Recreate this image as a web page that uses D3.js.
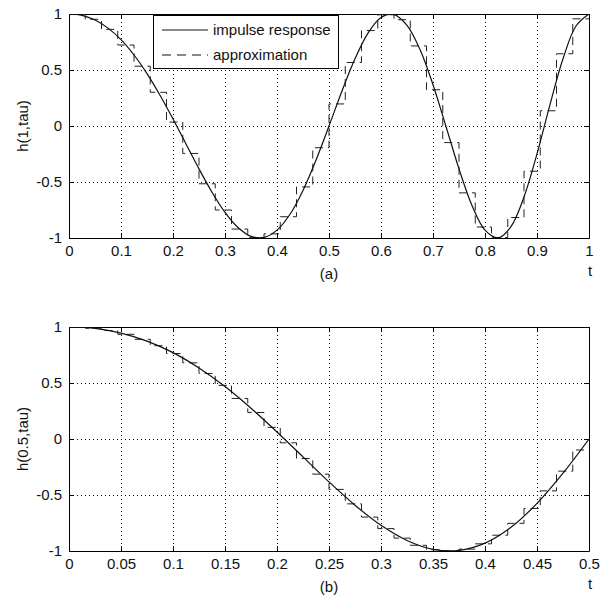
<!DOCTYPE html>
<html>
<head>
<meta charset="utf-8">
<script src="https://cdn.jsdelivr.net/npm/d3@7"></script>
<style>
  body { margin: 0; background: #fff; }
  svg { display: block; font-family: "Liberation Sans", Arial, sans-serif; }
</style>
</head>
<body>
<svg id="chart" width="604" height="597"></svg>
<script>
// impulse response samples, panel (a): h(1,tau)
var tauA = [0, 0.025, 0.05, 0.075, 0.1, 0.125, 0.15, 0.175, 0.2, 0.225, 0.25, 0.275, 0.3, 0.325, 0.35, 0.375, 0.4,
  0.425, 0.45, 0.475, 0.5, 0.525, 0.55, 0.575, 0.6, 0.625, 0.65, 0.675, 0.7, 0.725, 0.75, 0.775, 0.8, 0.825,
  0.85, 0.875, 0.9, 0.925, 0.95, 0.975, 1];
var hA = [1, 0.987, 0.946, 0.874, 0.771, 0.634, 0.468, 0.275, 0.063, -0.160, -0.383, -0.591, -0.771, -0.906, -0.985,
  -0.995, -0.930, -0.788, -0.575, -0.305, 0, 0.313, 0.600, 0.829, 0.969, 0.995, 0.898, 0.682, 0.368, -0.004,
  -0.383, -0.710, -0.930, -0.999, -0.898, -0.634, -0.249, 0.191, 0.600, 0.893, 1];
// approximation (staircase), panel (a): 32 steps over [0,1]
var stepA = [0.995, 0.953, 0.863, 0.723, 0.534, 0.301, 0.035, -0.245, -0.516, -0.750, -0.920, -0.997, -0.963,
  -0.810, -0.544, -0.194, 0.197, 0.567, 0.852, 0.993, 0.949, 0.715, 0.324, -0.148, -0.597, -0.902, -0.996,
  -0.817, -0.404, 0.136, 0.645, 0.957];

// panel (b): h(0.5,tau)
var tauB = [0, 0.025, 0.05, 0.075, 0.1, 0.125, 0.15, 0.175, 0.2, 0.225, 0.25, 0.275, 0.3, 0.325, 0.35, 0.375,
  0.4, 0.425, 0.45, 0.475, 0.5];
var hB = [1, 0.987, 0.946, 0.874, 0.771, 0.634, 0.468, 0.275, 0.063, -0.160, -0.383, -0.591, -0.771, -0.906,
  -0.985, -0.995, -0.930, -0.788, -0.575, -0.305, 0];
// 32 steps over [0,0.5]
var stepB = [0.999, 0.989, 0.968, 0.935, 0.890, 0.833, 0.763, 0.680, 0.585, 0.479, 0.362, 0.237, 0.104, -0.034,
  -0.174, -0.314, -0.450, -0.579, -0.697, -0.800, -0.885, -0.949, -0.988, -1.000, -0.983, -0.936, -0.859,
  -0.753, -0.620, -0.463, -0.287, -0.098];

var tTicksA = [0, 0.1, 0.2, 0.3, 0.4, 0.5, 0.6, 0.7, 0.8, 0.9, 1];
var tTicksB = [0, 0.05, 0.1, 0.15, 0.2, 0.25, 0.3, 0.35, 0.4, 0.45, 0.5];
var hTicks = [-1, -0.5, 0, 0.5, 1];

var svg = d3.select("#chart");
var left = 69, right = 589;

var panels = [
  {top: 14, bottom: 238, tmax: 1, tau: tauA, h: hA, steps: stepA, ticks: tTicksA,
   ylabel: "h(1,tau)", caption: "(a)", legend: true},
  {top: 327, bottom: 551, tmax: 0.5, tau: tauB, h: hB, steps: stepB, ticks: tTicksB,
   ylabel: "h(0.5,tau)", caption: "(b)", legend: false}
];

panels.forEach(function(p, i) {
  var x = d3.scaleLinear().domain([0, p.tmax]).range([left, right]);
  var y = d3.scaleLinear().domain([-1, 1]).range([p.bottom, p.top]);
  var g = svg.append("g");

  g.append("clipPath").attr("id", "clip" + i)
    .append("rect").attr("x", left).attr("y", p.top)
    .attr("width", right - left).attr("height", p.bottom - p.top);

  // dotted grid
  var grid = g.append("g").attr("stroke", "#000").attr("stroke-width", 1)
    .attr("stroke-dasharray", "1,3").attr("shape-rendering", "crispEdges");
  grid.selectAll(".gx").data(p.ticks.slice(1, -1)).enter().append("line")
    .attr("x1", function(d) { return Math.round(x(d)) + 0.5; })
    .attr("x2", function(d) { return Math.round(x(d)) + 0.5; })
    .attr("y1", p.top).attr("y2", p.bottom);
  grid.selectAll(".gy").data(hTicks.slice(1, -1)).enter().append("line")
    .attr("y1", function(d) { return Math.round(y(d)) + 0.5; })
    .attr("y2", function(d) { return Math.round(y(d)) + 0.5; })
    .attr("x1", left).attr("x2", right);

  // axes (ticks inside, box)
  var ax = d3.axisBottom(x).tickValues(p.ticks).tickSizeInner(-5).tickSizeOuter(0)
    .tickPadding(9).tickFormat(function(d) { return String(+d.toFixed(2)); });
  var gx = g.append("g").attr("transform", "translate(0," + p.bottom + ")").call(ax);
  var ay = d3.axisLeft(y).tickValues(hTicks).tickSizeInner(-5).tickSizeOuter(0)
    .tickPadding(7).tickFormat(function(d) { return String(d); });
  var gy = g.append("g").attr("transform", "translate(" + left + ",0)").call(ay);
  var axT = d3.axisTop(x).tickValues(p.ticks).tickSizeInner(-5).tickSizeOuter(0).tickFormat("");
  var gxt = g.append("g").attr("transform", "translate(0," + p.top + ")").call(axT);
  var ayR = d3.axisRight(y).tickValues(hTicks).tickSizeInner(-5).tickSizeOuter(0).tickFormat("");
  var gyr = g.append("g").attr("transform", "translate(" + right + ",0)").call(ayR);
  [gx, gy, gxt, gyr].forEach(function(a) {
    a.selectAll("path").attr("stroke", "#000");
    a.selectAll("line").attr("stroke", "#000");
    a.selectAll("text").attr("font-size", 15).attr("fill", "#111")
      .attr("font-family", "'Liberation Sans', Arial, sans-serif");
  });
  gx.selectAll("text").attr("dy", "0.71em").attr("transform", "translate(0,-2)");

  // y label
  g.append("text").attr("transform", "translate(23," + ((p.top + p.bottom) / 2) + ") rotate(-90)")
    .attr("text-anchor", "middle").attr("dy", "0.35em").attr("font-size", 15).attr("fill", "#111")
    .text(p.ylabel);
  // t label and caption
  g.append("text").attr("x", right + 1).attr("y", p.bottom + 33).attr("text-anchor", "middle")
    .attr("dy", "0.35em").attr("font-size", 15).attr("fill", "#111").text("t");
  g.append("text").attr("x", x(p.tmax / 2)).attr("y", p.bottom + 36).attr("text-anchor", "middle")
    .attr("dy", "0.35em").attr("font-size", 15).attr("fill", "#111").text(p.caption);

  var plot = g.append("g").attr("clip-path", "url(#clip" + i + ")");

  // staircase approximation
  var w = p.tmax / p.steps.length;
  var stairPts = p.steps.map(function(v, k) { return [k * w, v]; });
  stairPts.push([p.tmax, p.steps[p.steps.length - 1]]);
  plot.append("path").datum(stairPts)
    .attr("fill", "none").attr("stroke", "#222").attr("stroke-width", 1)
    .attr("stroke-dasharray", "8,5")
    .attr("d", d3.line().x(function(d) { return x(d[0]); }).y(function(d) { return y(d[1]); })
      .curve(d3.curveStepAfter));

  // impulse response
  plot.append("path").datum(p.tau.map(function(t, k) { return [t, p.h[k]]; }))
    .attr("fill", "none").attr("stroke", "#111").attr("stroke-width", 1.2)
    .attr("d", d3.line().x(function(d) { return x(d[0]); }).y(function(d) { return y(d[1]); })
      .curve(d3.curveCatmullRom));

  if (p.legend) {
    var lg = g.append("g");
    lg.append("rect").attr("x", 153.5).attr("y", 15.5).attr("width", 185).attr("height", 53)
      .attr("fill", "#fff").attr("stroke", "#000");
    var items = [{label: "impulse response", dash: null, yy: 30}, {label: "approximation", dash: "9,6", yy: 55}];
    items.forEach(function(it) {
      lg.append("line").attr("x1", 162).attr("x2", 208).attr("y1", it.yy).attr("y2", it.yy)
        .attr("stroke", "#111").attr("stroke-width", 1).attr("stroke-dasharray", it.dash);
      lg.append("text").attr("x", 213).attr("y", it.yy).attr("dy", "0.35em")
        .attr("font-size", 15).attr("fill", "#111").text(it.label);
    });
  }
});
</script>
</body>
</html>
